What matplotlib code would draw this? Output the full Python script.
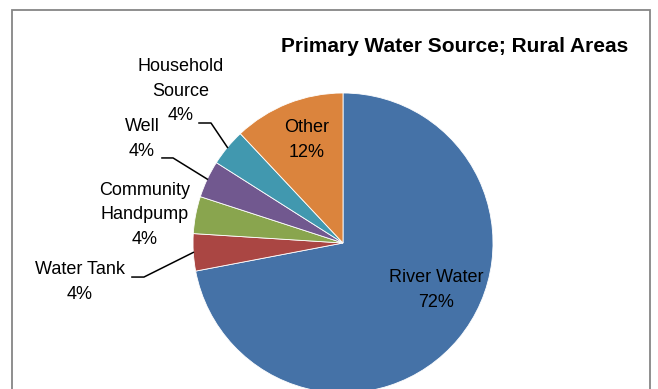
import matplotlib.pyplot as plt
import numpy as np
from matplotlib.patches import Rectangle

plt.rcParams['font.family'] = ['Liberation Sans', 'DejaVu Sans']

# data
labels = ['River Water', 'Water Tank', 'Community\nHandpump', 'Well', 'Household\nSource', 'Other']
values = [72, 4, 4, 4, 4, 12]
colors = ['#4572A7', '#AA4643', '#89A54E', '#71588F', '#4198AF', '#DB843D']
title = 'Primary Water Source; Rural Areas'

W, H = 658, 389
fig = plt.figure(figsize=(W / 100, H / 100), dpi=100)

# chart border (bottom is cut off)
fig.patches.append(Rectangle((12 / W, -0.1), 638 / W, 1.1 - 10 / H, transform=fig.transFigure,
                             fill=False, edgecolor='#868686', linewidth=1.3))

# pie axes: centre (343, 243) px, radius 150 px
cx, cy, r = 343, 243, 150
ax = fig.add_axes([(cx - r) / W, (H - cy - r) / H, 2 * r / W, 2 * r / H])
wedges, _ = ax.pie(values, colors=colors, startangle=90, counterclock=False, radius=1,
                   wedgeprops=dict(edgecolor='white', linewidth=0.6))
ax.set_xlim(-1, 1)
ax.set_ylim(-1, 1)
ax.axis('off')

# label positions (data units, centre of text block)
label_pos = [(0.62, -0.313), (-1.753, -0.26), (-1.32, 0.187), (-1.34, 0.693), (-1.08, 1.013), (-0.24, 0.687)]
# leader lines: (x start, x elbow, y) for outside labels
leaders = {1: (-1.407, -1.327, -0.227), 3: (-1.207, -1.133, 0.567), 4: (-0.96, -0.88, 0.80)}

for i, (lab, v) in enumerate(zip(labels, values)):
    x, y = label_pos[i]
    ax.text(x, y, f'{lab}\n{v}%', ha='center', va='center', fontsize=13,
            linespacing=1.55, clip_on=False)
    if i in leaders:
        w = wedges[i]
        mid = np.deg2rad((w.theta1 + w.theta2) / 2)
        x0, x1, ly = leaders[i]
        ax.plot([x0, x1, np.cos(mid)], [ly, ly, np.sin(mid)], color='black', lw=1.1,
                clip_on=False)

fig.text(628 / W, 1 - 47 / H, title, ha='right', va='center', fontsize=15, fontweight='bold')

fig.savefig('out.png', dpi=100)
